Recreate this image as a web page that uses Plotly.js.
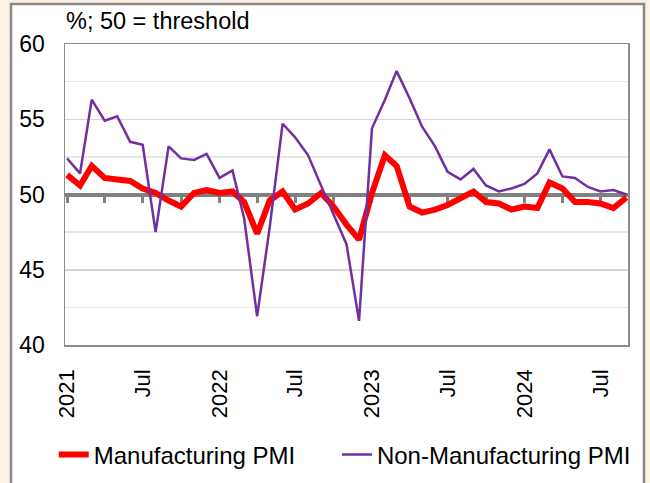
<!DOCTYPE html>
<html>
<head>
<meta charset="utf-8">
<script src="https://cdn.plot.ly/plotly-3.0.1.min.js"></script>
<style>html,body{margin:0;padding:0;background:#FDF0E4;}#chart{width:650px;height:483px;}</style>
</head>
<body>
<div id="chart"></div>
<script>
const months = [
  '2021-01-01','2021-02-01','2021-03-01','2021-04-01','2021-05-01','2021-06-01','2021-07-01','2021-08-01','2021-09-01','2021-10-01','2021-11-01','2021-12-01',
  '2022-01-01','2022-02-01','2022-03-01','2022-04-01','2022-05-01','2022-06-01','2022-07-01','2022-08-01','2022-09-01','2022-10-01','2022-11-01','2022-12-01',
  '2023-01-01','2023-02-01','2023-03-01','2023-04-01','2023-05-01','2023-06-01','2023-07-01','2023-08-01','2023-09-01','2023-10-01','2023-11-01','2023-12-01',
  '2024-01-01','2024-02-01','2024-03-01','2024-04-01','2024-05-01','2024-06-01','2024-07-01','2024-08-01','2024-09-01'
];
const manufacturingPMI = [
  51.3, 50.6, 51.9, 51.1, 51.0, 50.9, 50.4, 50.1, 49.6, 49.2, 50.1, 50.3,
  50.1, 50.2, 49.5, 47.4, 49.6, 50.2, 49.0, 49.4, 50.1, 49.2, 48.0, 47.0,
  50.1, 52.6, 51.9, 49.2, 48.8, 49.0, 49.3, 49.7, 50.2, 49.5, 49.4, 49.0,
  49.2, 49.1, 50.8, 50.4, 49.5, 49.5, 49.4, 49.1, 49.8
];
const nonManufacturingPMI = [
  52.4, 51.4, 56.3, 54.9, 55.2, 53.5, 53.3, 47.5, 53.2, 52.4, 52.3, 52.7,
  51.1, 51.6, 48.4, 41.9, 47.8, 54.7, 53.8, 52.6, 50.6, 48.7, 46.7, 41.6,
  54.4, 56.3, 58.2, 56.4, 54.5, 53.2, 51.5, 51.0, 51.7, 50.6, 50.2, 50.4,
  50.7, 51.4, 53.0, 51.2, 51.1, 50.5, 50.2, 50.3, 50.0
];
const tickDates = ['2021-01-01','2021-07-01','2022-01-01','2022-07-01','2023-01-01','2023-07-01','2024-01-01','2024-07-01'];
const tickLabels = ['2021','Jul','2022','Jul','2023','Jul','2024','Jul'];
const seriesNames = ['Manufacturing PMI','Non-Manufacturing PMI'];

const FONT = 'Liberation Sans, Arial, sans-serif';
const xRange = ['2020-12-27','2024-09-05'];

const traces = [
  // empty helper trace so that the base (label) x axis is created and drawn
  {x: [months[0]], y: [null], xaxis: 'x', yaxis: 'y', type: 'scatter', mode: 'lines',
   showlegend: false, hoverinfo: 'skip', line: {width: 0}},
  {x: months, y: manufacturingPMI, name: seriesNames[0], type: 'scatter', mode: 'lines',
   xaxis: 'x2', yaxis: 'y', legend: 'legend',
   line: {color: '#FF0000', width: 6}},
  {x: months, y: nonManufacturingPMI, name: seriesNames[1], type: 'scatter', mode: 'lines',
   xaxis: 'x2', yaxis: 'y', legend: 'legend2',
   line: {color: '#7030A0', width: 2.5}}
];

const legendBase = {orientation: 'h', xanchor: 'left', yref: 'container', y: (483 - 455) / 483, yanchor: 'middle',
                    font: {family: FONT, size: 24, color: '#000'}, bgcolor: 'rgba(0,0,0,0)'};

const layout = {
  width: 650, height: 483,
  paper_bgcolor: '#FDF0E4',
  plot_bgcolor: '#FFFFFF',
  margin: {l: 65, r: 22, t: 44, b: 138},
  font: {family: FONT, color: '#000000', size: 23},
  title: {text: '%; 50 = threshold', font: {family: FONT, size: 23.5, color: '#000'},
          xref: 'container', x: 66/650, xanchor: 'left',
          yref: 'container', y: 1 - 21/483, yanchor: 'middle'},
  showlegend: true,
  legend: Object.assign({}, legendBase, {x: -0.02}),
  legend2: Object.assign({}, legendBase, {x: 0.483}),
  xaxis: {type: 'date', range: xRange, tickmode: 'array', tickvals: tickDates, ticktext: tickLabels,
          tickangle: -90, ticks: '', showgrid: false, zeroline: false,
          showline: true, linecolor: '#8c8c8c', linewidth: 1.5, mirror: true,
          tickfont: {family: FONT, size: 22, color: '#000'}, ticklabelstandoff: 14},
  xaxis2: {type: 'date', range: xRange, overlaying: 'x', anchor: 'free', position: 0.5, side: 'bottom',
           showline: true, linecolor: '#808080', linewidth: 4, layer: 'below traces',
           ticks: 'outside', ticklen: 6, tickwidth: 3, tickcolor: '#808080',
           tick0: '2021-01-01', dtick: 'M3', showticklabels: false, showgrid: false, zeroline: false},
  yaxis: {range: [40, 60], dtick: 5, tick0: 40, ticks: '', showgrid: true, gridcolor: '#d6d6d6', gridwidth: 1.5,
          minor: {dtick: 2.5, tick0: 40, showgrid: true, gridcolor: '#e6e6e6', gridwidth: 1.5},
          zeroline: false, showline: true, linecolor: '#8c8c8c', linewidth: 1.5, mirror: true,
          tickfont: {family: FONT, size: 23, color: '#000'}, ticklabelstandoff: 14},
  shapes: [
    {type: 'rect', xref: 'paper', yref: 'paper', layer: 'below',
     x0: (11 - 65) / 563, x1: (644 - 65) / 563, y0: (345 - 500) / 301, y1: (345 - 4) / 301,
     fillcolor: '#FFFFFF', line: {color: '#888888', width: 2.5}}
  ]
};

Plotly.newPlot('chart', traces, layout, {displayModeBar: false, staticPlot: true});
</script>
</body>
</html>
